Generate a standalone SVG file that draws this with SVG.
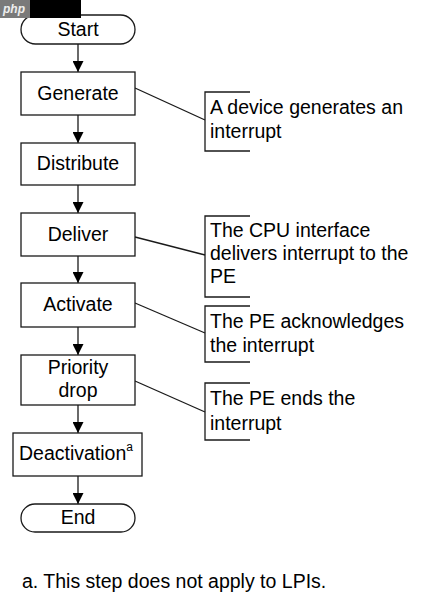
<svg xmlns="http://www.w3.org/2000/svg" width="431" height="598" viewBox="0 0 431 598">
<style>
.box{fill:#fff;stroke:#1a1a1a;stroke-width:1.3}
.ln{fill:none;stroke:#1a1a1a;stroke-width:1.3}
text{font-family:"Liberation Sans",Arial,sans-serif;font-size:19.5px;fill:#000}
.c{text-anchor:middle}
</style>
<defs>
<marker id="ah" viewBox="0 0 11 11" refX="11" refY="5.5" markerWidth="11" markerHeight="11" markerUnits="userSpaceOnUse" orient="auto">
<path d="M0,0 L11,5.5 L0,11 Z" fill="#000"/>
</marker>
</defs>
<rect width="431" height="598" fill="#fff"/>
<g id="connectors">
<line class="ln" x1="78" y1="44" x2="78" y2="72" marker-end="url(#ah)"/>
<line class="ln" x1="78" y1="115" x2="78" y2="143" marker-end="url(#ah)"/>
<line class="ln" x1="78" y1="185" x2="78" y2="213" marker-end="url(#ah)"/>
<line class="ln" x1="78" y1="256" x2="78" y2="283" marker-end="url(#ah)"/>
<line class="ln" x1="78" y1="327" x2="78" y2="355" marker-end="url(#ah)"/>
<line class="ln" x1="78" y1="405" x2="78" y2="433" marker-end="url(#ah)"/>
<line class="ln" x1="78" y1="476" x2="78" y2="504" marker-end="url(#ah)"/>
<line class="ln" x1="135" y1="88" x2="205" y2="120"/>
<line class="ln" x1="135" y1="237" x2="205" y2="255"/>
<line class="ln" x1="135" y1="303" x2="205" y2="333"/>
<line class="ln" x1="135" y1="381" x2="205" y2="412"/>
</g>
<g id="start"><rect class="box" x="21" y="15" width="114" height="29" rx="14.5"/><text class="c" x="78" y="36">Start</text></g>
<g id="generate"><rect class="box" x="21" y="72" width="114" height="43"/><text class="c" x="78" y="100">Generate</text></g>
<g id="distribute"><rect class="box" x="21" y="143" width="114" height="42"/><text class="c" x="78" y="170">Distribute</text></g>
<g id="deliver"><rect class="box" x="21" y="213" width="114" height="43"/><text class="c" x="78" y="241">Deliver</text></g>
<g id="activate"><rect class="box" x="21" y="283" width="114" height="44"/><text class="c" x="78" y="311">Activate</text></g>
<g id="priority-drop"><rect class="box" x="21" y="355" width="114" height="50"/><text class="c" x="78" y="374">Priority</text><text class="c" x="78" y="397">drop</text></g>
<g id="deactivation"><rect class="box" x="13" y="433" width="129" height="43"/><text x="19" y="460">Deactivation<tspan font-size="12" dy="-9">a</tspan></text></g>
<g id="end"><rect class="box" x="21" y="504" width="114" height="28" rx="14"/><text class="c" x="78" y="524">End</text></g>
<g id="note-generate"><path class="ln" d="M250,92 H205 V151 H250"/><text x="210" y="114">A device generates an</text><text x="210" y="138">interrupt</text></g>
<g id="note-deliver"><path class="ln" d="M250,216 H205 V297 H250"/><text x="210" y="237">The CPU interface</text><text x="210" y="260">delivers interrupt to the</text><text x="210" y="283">PE</text></g>
<g id="note-activate"><path class="ln" d="M250,306 H205 V362 H250"/><text x="210" y="328">The PE acknowledges</text><text x="210" y="352">the interrupt</text></g>
<g id="note-priority"><path class="ln" d="M250,383 H205 V440 H250"/><text x="210" y="405">The PE ends the</text><text x="210" y="430">interrupt</text></g>
<g id="footnote"><text x="22" y="588">a. This step does not apply to LPIs.</text></g>
<g id="watermark"><rect x="0" y="0" width="30" height="18" fill="#7a7a7a"/><rect x="30" y="0" width="51" height="18" fill="#000"/><text x="3" y="13" style="font-size:12px;font-style:italic;font-weight:bold;fill:#eee">php</text></g>
</svg>
